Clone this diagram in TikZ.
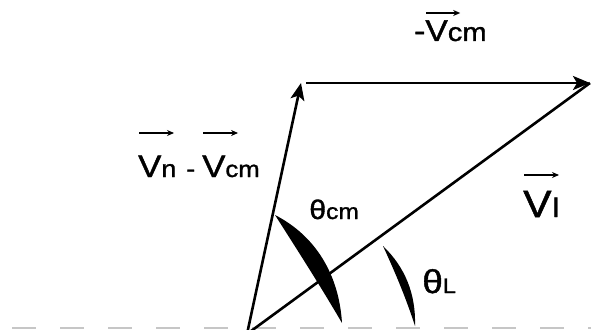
\documentclass[tikz,border=0pt]{standalone}
\usepackage{fontspec}
\newfontfamily\lblfont[FakeStretch=1.12,FakeBold=1.3]{Liberation Sans}
\usetikzlibrary{arrows.meta}
\newcommand\fs[2]{{\fontsize{#1}{#1}\selectfont #2}}
\newcommand\varr[2]{\rlap{\tikz[baseline=0pt,x=1pt,y=1pt,line width=1.6pt]\draw[-{Stealth[length=7pt,width=6pt]}] (0,#2)--(#1,#2);}}
\tikzset{vec/.style={-{Stealth[length=17pt,width=14pt,inset=4pt]}},
  lbl/.style={anchor=base west,inner sep=0pt,font=\lblfont}}
\begin{document}
\begin{tikzpicture}[x=1pt,y=-1pt,line width=2.6pt]
\useasboundingbox (0,0) rectangle (591,329);
\clip (0,0) rectangle (591,329);
\coordinate (O) at (247,334);\coordinate (A) at (301,83);\coordinate (B) at (590,83);
\coordinate (axL) at (12,327.8);\coordinate (axR) at (591,327.8);
\draw[gray!45,line width=2pt,dash pattern=on 24pt off 24pt] (axL)--(axR);
\draw[vec] (O)--(A);
\draw[vec,shorten <=5pt] (A)--(B);
\draw (O)--(B);
% angle marks
\fill (275,215) .. controls (316,236) and (339,275) .. (342,323) .. controls (321,287) and (298,251) .. cycle;
\fill (383,246) .. controls (405,267) and (416,294) .. (415,326) .. controls (406,298) and (395,272) .. cycle;
\node[lbl] (vcm) at (414,41) {\fs{30}{-\varr{34}{28}V}\fs{26}{cm}};
\node[lbl] (vdiff) at (138,177) {\fs{31}{\varr{35}{44}V}\fs{24}{n\hspace{10pt}-\hspace{7pt}}\fs{31}{\varr{35}{44}V}\fs{23}{cm}};
\node[lbl] (thcm) at (308,219) {\fs{27}{θ}\fs{22}{cm}};
\node[lbl] (thl) at (421,293) {\fs{33}{θ}\fs{21}{L}};
\node[lbl] (vl) at (523,217) {\fs{38}{\varr{35}{42}V}\hspace{1pt}\fs{27}{l}};
\end{tikzpicture}
\end{document}
